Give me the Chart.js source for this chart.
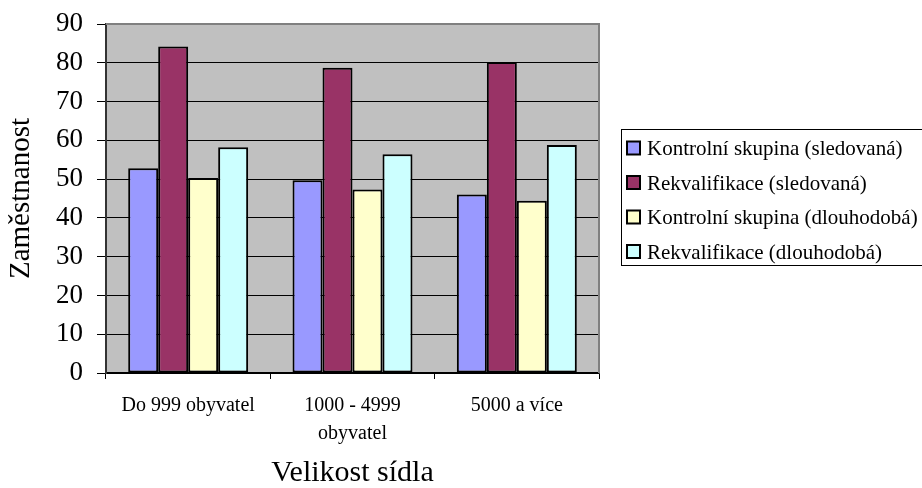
<!DOCTYPE html>
<html>
<head>
<meta charset="utf-8">
<script src="https://cdn.jsdelivr.net/npm/chart.js@4.4.1/dist/chart.umd.min.js"></script>
<style>
  html, body { margin: 0; padding: 0; background: #ffffff; }
  #wrap { width: 922px; height: 488px; }
</style>
</head>
<body>
<div id="wrap"><canvas id="c" width="922" height="488"></canvas></div>
<script>
const categories = [["Do 999 obyvatel"], ["1000 - 4999", "obyvatel"], ["5000 a více"]];
const seriesLabels = [
  "Kontrolní skupina (sledovaná)",
  "Rekvalifikace (sledovaná)",
  "Kontrolní skupina (dlouhodobá)",
  "Rekvalifikace (dlouhodobá)"
];
const kontrolniSledovana = [52.8, 49.7, 46.0];
const rekvalifikaceSledovana = [84.2, 78.7, 80.2];
const kontrolniDlouhodoba = [50.3, 47.3, 44.4];
const rekvalifikaceDlouhodoba = [58.2, 56.4, 58.8];
const yTicks = [0, 10, 20, 30, 40, 50, 60, 70, 80, 90];
const yTitle = "Zaměstnanost";
const xTitle = "Velikost sídla";

const seriesColors = ["#9999FF", "#993366", "#FFFFCC", "#CCFFFF"];
const serif = "'Liberation Serif', 'Times New Roman', serif";

const seriesData = [kontrolniSledovana, rekvalifikaceSledovana, kontrolniDlouhodoba, rekvalifikaceDlouhodoba];

const plotBg = {
  id: 'plotBg',
  beforeDraw(chart) {
    const {ctx, chartArea: a} = chart;
    ctx.save();
    ctx.fillStyle = '#C0C0C0';
    ctx.fillRect(a.left, a.top, a.right - a.left, a.bottom - a.top);
    ctx.restore();
  },
  afterDraw(chart) {
    const {ctx, chartArea: a} = chart;
    ctx.save();
    ctx.strokeStyle = '#808080';
    ctx.lineWidth = 2;
    ctx.beginPath();
    ctx.moveTo(a.left, a.top);
    ctx.lineTo(a.right, a.top);
    ctx.lineTo(a.right, a.bottom);
    ctx.stroke();
    ctx.restore();
  }
};

const boxLegend = {
  id: 'boxLegend',
  afterDraw(chart) {
    const {ctx} = chart;
    const x0 = 621, y0 = 129, w = 310, h = 137;
    ctx.save();
    ctx.fillStyle = '#ffffff';
    ctx.fillRect(x0, y0, w, h);
    ctx.strokeStyle = '#000000';
    ctx.lineWidth = 1;
    ctx.strokeRect(x0 + 0.5, y0 + 0.5, w - 1, h - 1);
    ctx.font = "21px " + serif;
    ctx.textBaseline = 'middle';
    ctx.textAlign = 'left';
    chart.data.datasets.forEach((ds, i) => {
      const cy = 148.5 + i * 34.5;
      ctx.fillStyle = ds.backgroundColor;
      ctx.fillRect(627, cy - 7, 13, 13);
      ctx.strokeStyle = '#000';
      ctx.lineWidth = 2;
      ctx.strokeRect(627, cy - 7, 13, 13);
      ctx.fillStyle = '#000';
      ctx.fillText(ds.label, 647, cy + 1);
    });
    ctx.restore();
  }
};

new Chart(document.getElementById('c'), {
  type: 'bar',
  data: {
    labels: categories,
    datasets: seriesData.map((d, i) => ({
      label: seriesLabels[i],
      data: d,
      backgroundColor: seriesColors[i],
      borderColor: '#000000',
      borderWidth: 2,
      borderSkipped: false,
      categoryPercentage: 0.73,
      barPercentage: 1.0
    }))
  },
  options: {
    responsive: false,
    animation: false,
    layout: { padding: { left: 0, right: 323, top: 24, bottom: 0 } },
    plugins: {
      legend: { display: false },
      tooltip: { enabled: false }
    },
    scales: {
      x: {
        afterFit(scale) { scale.height = 115; },
        grid: {
          offset: true,
          drawOnChartArea: false,
          drawTicks: true,
          tickLength: 6,
          color: '#000000'
        },
        border: { color: '#000000', width: 1.5 },
        ticks: {
          color: '#000000',
          padding: 13,
          maxRotation: 0,
          autoSkip: false,
          font: { family: serif, size: 20, lineHeight: 1.4 }
        },
        title: {
          display: true,
          text: xTitle,
          color: '#000000',
          padding: { top: 0, bottom: 0 },
          font: { family: serif, size: 30, lineHeight: 1.0 }
        }
      },
      y: {
        min: 0,
        max: 90,
        afterFit(scale) {
          scale.width = 106;
          scale.paddingTop = 0;
          scale.paddingBottom = 0;
        },
        afterBuildTicks(scale) { scale.ticks = yTicks.map(v => ({ value: v })); },
        grid: {
          color: '#000000',
          lineWidth: 1,
          drawTicks: true,
          tickLength: 9
        },
        border: { color: '#333333', width: 2 },
        ticks: {
          color: '#000000',
          padding: 14,
          font: { family: serif, size: 27 }
        },
        title: {
          display: true,
          text: yTitle,
          color: '#000000',
          padding: { top: 4, bottom: 0 },
          font: { family: serif, size: 29, lineHeight: 1.2 }
        }
      }
    }
  },
  plugins: [plotBg, boxLegend]
});
</script>
</body>
</html>
